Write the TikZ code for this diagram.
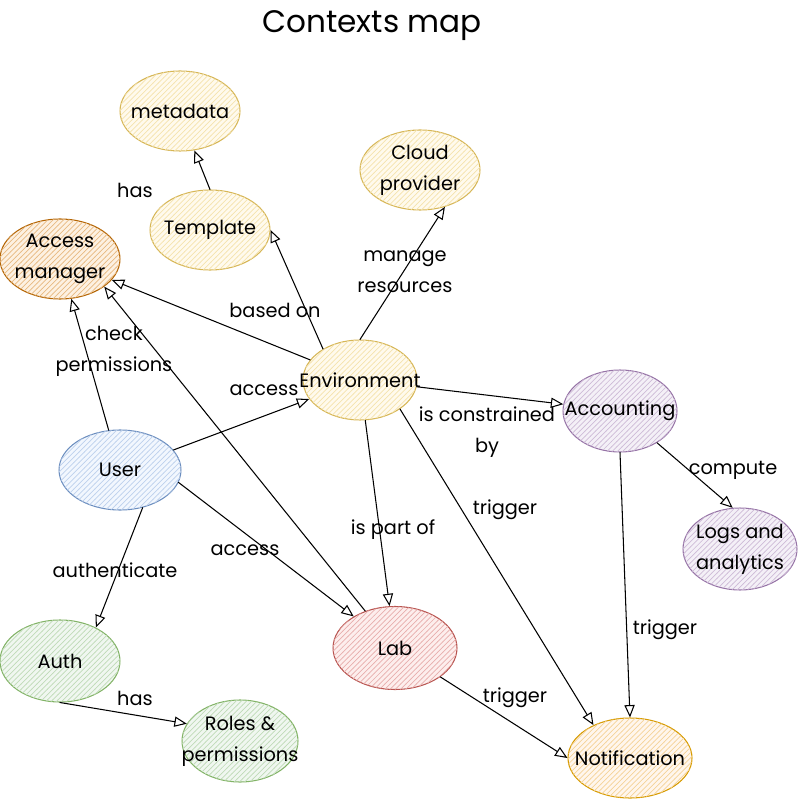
\documentclass[tikz,border=0pt]{standalone}
\usepackage{fontspec}
\setmainfont{Poppins}
\usetikzlibrary{arrows,patterns,shapes.geometric}
\definecolor{yfill}{HTML}{FFF2CC}
\definecolor{ydraw}{HTML}{D6B656}
\definecolor{ofill}{HTML}{FAD7AC}
\definecolor{odraw}{HTML}{B46504}
\definecolor{bfill}{HTML}{DAE8FC}
\definecolor{bdraw}{HTML}{6C8EBF}
\definecolor{pfill}{HTML}{E1D5E7}
\definecolor{pdraw}{HTML}{9673A6}
\definecolor{gfill}{HTML}{D5E8D4}
\definecolor{gdraw}{HTML}{82B366}
\definecolor{rfill}{HTML}{F8CECC}
\definecolor{rdraw}{HTML}{B85450}
\definecolor{nfill}{HTML}{FFE6CC}
\definecolor{ndraw}{HTML}{D79B00}
\tikzset{
	ctx/.style 2 args={ellipse,draw=#2,line width=0.6pt,fill=#1!35,
		postaction={pattern=north east lines,pattern color=#1!75!#2},
		minimum width=2.4cm,minimum height=1.6cm,inner sep=0pt},
	every label/.style={align=center,inner sep=0pt,font=\fontsize{11}{17.5}\selectfont},
	rel/.style={->,line width=0.6pt},
	lbl/.style={align=center,inner sep=1pt,font=\fontsize{11}{17.5}\selectfont}
}

\begin{document}
\begin{tikzpicture}[line cap=round,line join=round,>=open triangle 45,x=0.02cm,y=-0.02cm]
		\useasboundingbox (0,0) rectangle (801,800);
		\node[font=\fontsize{17.7}{20}\selectfont] (title) at (372,26) {Contexts map};
		\node[ctx={yfill}{ydraw},label=center:metadata] (meta) at (180,111) {};
		\node[ctx={yfill}{ydraw},label={center:Cloud\\provider}] (cloud) at (420,170) {};
		\node[ctx={yfill}{ydraw},label=center:Template] (tpl) at (210,230) {};
		\node[ctx={ofill}{odraw},label={center:Access\\manager}] (acc) at (60,259) {};
		\node[ctx={yfill}{ydraw},minimum width=2.28cm,label=center:Environment] (env) at (360,380) {};
		\node[ctx={pfill}{pdraw},minimum width=2.28cm,minimum height=1.64cm,label=center:Accounting] (acct) at (620,411) {};
		\node[ctx={bfill}{bdraw},minimum width=2.44cm,label=center:User] (user) at (120,470) {};
		\node[ctx={pfill}{pdraw},minimum width=2.28cm,minimum height=1.64cm,label={center:Logs and\\analytics}] (logs) at (740,549) {};
		\node[ctx={gfill}{gdraw},minimum height=1.64cm,label=center:Auth] (auth) at (60,661) {};
		\node[ctx={rfill}{rdraw},minimum width=2.48cm,minimum height=1.66cm,label=center:Lab] (lab) at (395,648) {};
		\node[ctx={gfill}{gdraw},minimum width=2.32cm,minimum height=1.64cm,label={center:Roles \&\\permissions}] (roles) at (240,741) {};
		\node[ctx={nfill}{ndraw},minimum width=2.48cm,label=center:Notification] (notif) at (630,758) {};
		\draw [rel] (tpl.north) -- (meta.-70);
		\draw [rel] (env.140) -- (tpl.east);
		\draw [rel] (env.north) -- (cloud.-56);
		\draw [rel] (env) -- (acc);
		\draw [rel] (user) -- (acc);
		\draw [rel] (lab) -- (acc.-32);
		\draw [rel] (user) -- (env);
		\draw [rel] (user.-12) -- (lab);
		\draw [rel] (user.-59) -- (auth.43);
		\draw [rel] (env) -- (lab);
		\draw [rel] (env) -- (acct);
		\draw [rel] (env.-36) -- (notif.138);
		\draw [rel] (acct) -- (logs.100);
		\draw [rel] (acct.south) -- (notif.north);
		\draw [rel] (lab) -- (notif.west);
		\draw [rel] (auth.south) -- (roles.162);
		\node[lbl] (lhasmeta) at (135,190) {has};
		\node[lbl] (lbased) at (275,310) {based on};
		\node[lbl] (lmanage) at (405,272) {manage\\resources};
		\node[lbl] (lcheck) at (114,351) {check\\permissions};
		\node[lbl] (laccenv) at (264,390) {access};
		\node[lbl] (lacclab) at (245,550) {access};
		\node[lbl] (lauth) at (115,570) {authenticate};
		\node[lbl] (lpart) at (393,530) {is part of};
		\node[lbl] (lcons) at (487,432) {is constrained\\by};
		\node[lbl] (ltrigenv) at (505,510) {trigger};
		\node[lbl] (lcompute) at (733,470) {compute};
		\node[lbl] (ltrigacct) at (665,630) {trigger};
		\node[lbl] (ltriglab) at (515,698) {trigger};
		\node[lbl] (lhasroles) at (135,698) {has};
	\end{tikzpicture}
\end{document}
